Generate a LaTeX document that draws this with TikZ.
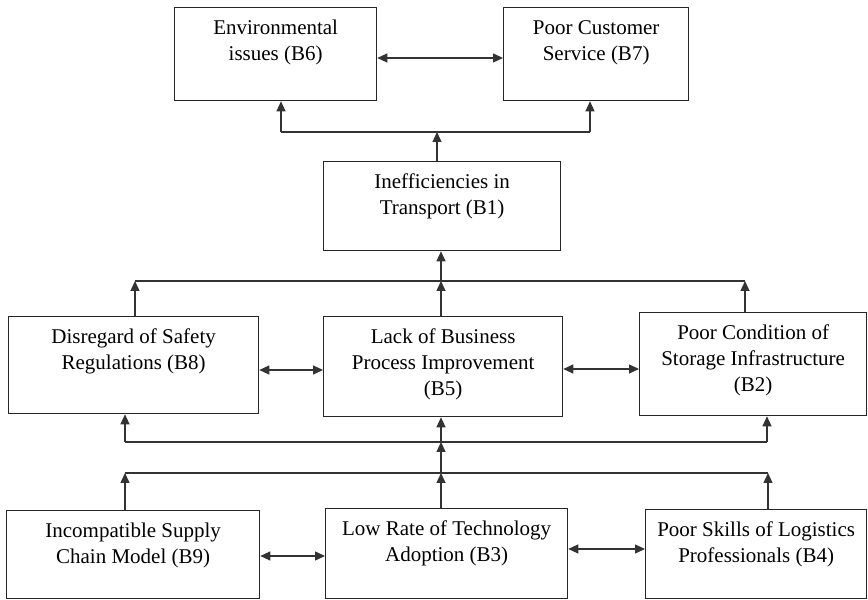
\documentclass[tikz,border=0pt]{standalone}
\usepackage{fontspec}
\setmainfont{Liberation Serif}
\usetikzlibrary{arrows.meta}
\newcommand{\bxtext}[3]{\parbox[c][#2pt][t]{#1pt}{\centering\vspace*{9pt}\strut #3\par}}
\begin{document}
\begin{tikzpicture}[x=1pt,y=1pt,
  bx/.style={draw=black!85, line width=1.3pt, inner sep=0pt, anchor=north west,
    font=\fontsize{21}{26}\selectfont, text=black},
  ln/.style={draw=black!80, line width=1.3pt},
  arr/.style={ln, -{Triangle[length=10pt,width=9pt]}},
  darr/.style={ln, {Triangle[length=10pt,width=9pt]}-{Triangle[length=10pt,width=9pt]}}]
\useasboundingbox (0,0) rectangle (868,600);
\fill[white] (0,0) rectangle (868,600);
% boxes
\node[bx] (B6) at (174,593) {\bxtext{202}{93}{Environmental\\issues (B6)}};
\node[bx] (B7) at (503,593) {\bxtext{185}{93}{Poor Customer\\Service (B7)}};
\node[bx] (B1) at (323,439) {\bxtext{237}{89}{Inefficiencies in\\Transport (B1)}};
\node[bx] (B8) at (8,284) {\bxtext{250}{97}{Disregard of Safety\\Regulations (B8)}};
\node[bx] (B5) at (323,284) {\bxtext{239}{100}{Lack of Business\\Process Improvement\\(B5)}};
\node[bx] (B2) at (639,288) {\bxtext{227}{103}{Poor Condition of\\Storage Infrastructure\\(B2)}};
\node[bx] (B9) at (6,90) {\bxtext{253}{88}{Incompatible Supply\\Chain Model (B9)}};
\node[bx] (B3) at (325,92) {\bxtext{242}{90}{Low Rate of Technology\\Adoption (B3)}};
\node[bx] (B4) at (645,91) {\bxtext{221}{89}{Poor Skills of Logistics\\Professionals (B4)}};
% junction coordinates
\coordinate (t1) at (281,468);
\coordinate (t2) at (590,468);
\coordinate (tc) at (437,468);
\coordinate (m1) at (135,319);
\coordinate (m2) at (745,319);
\coordinate (mc) at (441,319);
\coordinate (l1) at (125,158);
\coordinate (l2) at (767,158);
\coordinate (lc) at (441,158);
\coordinate (b1) at (125,127);
\coordinate (b2) at (768,127);
\coordinate (bc) at (441,127);
% top level
\draw[darr] (B6.east |- 0,542) -- (B7.west |- 0,542);
\draw[ln] (t1) -- (t2);
\draw[arr] (t1) -- (t1 |- B6.south);
\draw[arr] (t2) -- (t2 |- B7.south);
\draw[arr] (tc |- B1.north) -- (tc);
% middle level
\draw[ln] (m1) -- (m2);
\draw[arr] (m1 |- B8.north) -- (m1);
\draw[arr] (m2 |- B2.north) -- (m2);
\draw[arr] (mc |- B5.north) -- (mc);
\draw[arr] (mc) -- (mc |- B1.south);
\draw[darr] (B8.east |- 0,230) -- (B5.west |- 0,230);
\draw[darr] (B5.east |- 0,231) -- (B2.west |- 0,231);
% lower lines
\draw[ln] (l1) -- (l2);
\draw[arr] (l1) -- (l1 |- B8.south);
\draw[arr] (l2) -- (l2 |- B2.south);
\draw[arr] (lc) -- (lc |- B5.south);
\draw[ln] (b1) -- (b2);
\draw[arr] (b1 |- B9.north) -- (b1);
\draw[arr] (b2 |- B4.north) -- (b2);
\draw[arr] (bc |- B3.north) -- (bc);
\draw[arr] (bc) -- (lc);
% bottom level
\draw[darr] (B9.east |- 0,44) -- (B3.west |- 0,44);
\draw[darr] (B3.east |- 0,51) -- (B4.west |- 0,51);
\end{tikzpicture}
\end{document}
